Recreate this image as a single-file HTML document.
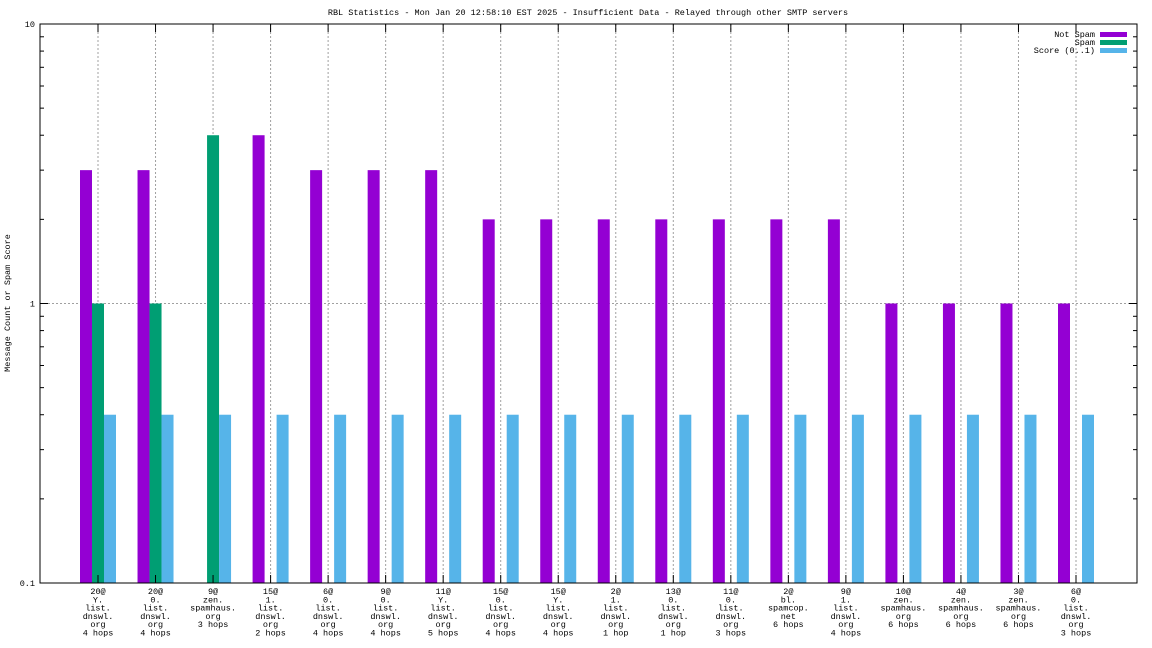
<!DOCTYPE html>
<html><head><meta charset="utf-8"><style>
html,body{margin:0;padding:0;background:#fff;width:1152px;height:648px;overflow:hidden}
svg text{font-family:"Liberation Mono","DejaVu Sans Mono",monospace;font-size:8.5px;fill:#000}
</style></head><body>
<svg id="chart" width="1152" height="648" xmlns="http://www.w3.org/2000/svg">
<text x="588" y="15" text-anchor="middle">RBL Statistics - Mon Jan 20 12:58:10 EST 2025 - Insufficient Data - Relayed through other SMTP servers</text>
<text transform="translate(10,303) rotate(-90)" text-anchor="middle">Message Count or Spam Score</text>
<g id="grid"></g><g id="bars"></g><g id="axes"></g><g id="labels"></g>
<g>
<text x="1095" y="37" text-anchor="end">Not Spam</text>
<rect x="1100" y="32" width="27" height="5" fill="#9400d3"/>
<text x="1095" y="45" text-anchor="end">Spam</text>
<rect x="1100" y="40" width="27" height="5" fill="#009e73"/>
<text x="1095" y="53" text-anchor="end">Score (0..1)</text>
<rect x="1100" y="48" width="27" height="5" fill="#56b4e9"/>
</g>
</svg>
<script>
const categories=[["20@","Y.","list.","dnswl.","org","4 hops"],["20@","0.","list.","dnswl.","org","4 hops"],["9@","zen.","spamhaus.","org","3 hops"],["15@","1.","list.","dnswl.","org","2 hops"],["6@","0.","list.","dnswl.","org","4 hops"],["9@","0.","list.","dnswl.","org","4 hops"],["11@","Y.","list.","dnswl.","org","5 hops"],["15@","0.","list.","dnswl.","org","4 hops"],["15@","Y.","list.","dnswl.","org","4 hops"],["2@","1.","list.","dnswl.","org","1 hop"],["13@","0.","list.","dnswl.","org","1 hop"],["11@","0.","list.","dnswl.","org","3 hops"],["2@","bl.","spamcop.","net","6 hops"],["9@","1.","list.","dnswl.","org","4 hops"],["10@","zen.","spamhaus.","org","6 hops"],["4@","zen.","spamhaus.","org","6 hops"],["3@","zen.","spamhaus.","org","6 hops"],["6@","0.","list.","dnswl.","org","3 hops"]];
const notSpam=[3,3,0,4,3,3,3,2,2,2,2,2,2,2,1,1,1,1];
const spam=[1,1,4,0,0,0,0,0,0,0,0,0,0,0,0,0,0,0];
const score=[0.4,0.4,0.4,0.4,0.4,0.4,0.4,0.4,0.4,0.4,0.4,0.4,0.4,0.4,0.4,0.4,0.4,0.4];
const yTicks=[0.1,1,10];
const yTickLabels=["0.1","1","10"];
const NS="http://www.w3.org/2000/svg";
const L=40,R=1137,T=24,B=583;
function y(v){return B-(Math.log10(v)+1)/2*(B-T);}
function x(i){return 98+i*(1076-98)/(categories.length-1);}
function mk(tag,attrs,parent){const e=document.createElementNS(NS,tag);for(const k in attrs)e.setAttribute(k,attrs[k]);document.getElementById(parent).appendChild(e);return e;}
// grid
categories.forEach((c,i)=>{const g=mk('line',{x1:x(i),x2:x(i),y1:T,y2:B,stroke:'#a0a0a0','stroke-dasharray':'2,2'},'grid');

});
const hg=mk('line',{x1:L,x2:R,y1:y(1),y2:y(1),stroke:'#a0a0a0','stroke-dasharray':'2,2'},'grid');


// bars
const series=[[notSpam,'#9400d3',-18,'bar-not-spam'],[spam,'#009e73',-6,'bar-spam'],[score,'#56b4e9',6,'bar-score']];
series.forEach(s=>{s[0].forEach((v,i)=>{if(v<=0)return;const r=mk('rect',{x:x(i)+s[2],y:y(v),width:12,height:B-y(v),fill:s[1]},'bars');

});});
// axes
const fr=mk('rect',{x:L,y:T,width:R-L,height:B-T,fill:'none',stroke:'#000','stroke-width':1},'axes');


yTicks.forEach((t,i)=>{const yy=y(t);
mk('line',{x1:L,x2:L+8,y1:yy,y2:yy,stroke:'#000'},'axes');mk('line',{x1:R-8,x2:R,y1:yy,y2:yy,stroke:'#000'},'axes');
const tx=mk('text',{x:L-5,y:yy+3,'text-anchor':'end'},'labels');tx.textContent=yTickLabels[i];


if(i<yTicks.length-1){for(let m=2;m<=9;m++){const my=y(t*m);mk('line',{x1:L,x2:L+4,y1:my,y2:my,stroke:'#000'},'axes');mk('line',{x1:R-4,x2:R,y1:my,y2:my,stroke:'#000'},'axes');}}});
categories.forEach((c,i)=>{mk('line',{x1:x(i),x2:x(i),y1:B,y2:B-8,stroke:'#000'},'axes');mk('line',{x1:x(i),x2:x(i),y1:T,y2:T+8,stroke:'#000'},'axes');
c.forEach((ln,j)=>{const t=mk('text',{x:x(i),y:594+j*8.3,'text-anchor':'middle'},'labels');t.textContent=ln;

});});
</script>
</body></html>
